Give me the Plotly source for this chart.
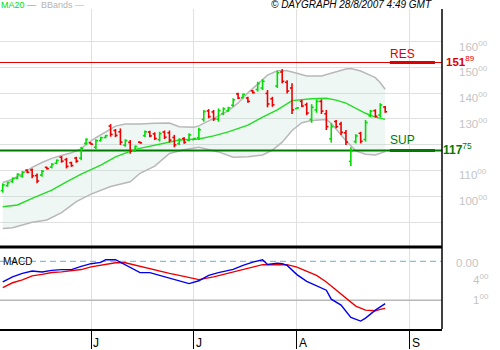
import plotly.graph_objects as go

# ---------------- data ----------------
bar_idx = list(range(79))  # trading-day index, 0 = 7 May 2007
bar_open = [102.2, 104.1, 105.7, 107.0, 107.8, 110.1, 110.2, 108.0, 108.2, 111.2,
            111.3, 112.8, 115.1, 114.2, 113.0, 114.8, 114.8, 120.5, 120.7, 119.0,
            121.6, 122.8, 127.2, 125.5, 125.0, 119.8, 120.9, 117.7, 121.0, 123.5,
            124.9, 124.2, 122.0, 124.9, 124.6, 122.8, 120.4, 122.4, 121.8, 122.0,
            122.7, 129.8, 133.1, 132.7, 129.9, 132.1, 133.2, 135.3, 139.7, 138.3,
            138.1, 140.9, 141.4, 142.0, 139.9, 137.8, 142.8, 148.2, 144.2, 142.0,
            134.0, 136.8, 135.5, 129.8, 133.5, 136.8, 132.0, 122.3, 129.0, 128.0,
            124.6, 113.5, 121.2, 124.4, 122.0, 131.2, 133.2, 131.5, 134.6]
bar_high = [105.0, 105.6, 107.3, 108.9, 109.8, 110.4, 110.8, 108.8, 110.2, 111.4,
            112.8, 114.3, 115.6, 114.9, 113.4, 115.3, 119.2, 122.5, 120.8, 122.1,
            123.1, 123.8, 128.0, 126.1, 126.3, 122.1, 121.8, 119.7, 121.2, 125.5,
            125.4, 124.8, 125.0, 125.5, 125.5, 123.8, 122.5, 122.9, 124.4, 122.6,
            126.6, 133.5, 133.8, 133.5, 134.1, 134.5, 134.7, 138.0, 140.2, 139.9,
            138.6, 141.2, 144.4, 145.4, 141.2, 138.6, 148.7, 149.3, 145.0, 143.8,
            134.4, 137.3, 136.3, 135.7, 137.6, 137.6, 133.5, 128.3, 129.6, 128.9,
            125.7, 119.0, 124.1, 125.0, 129.6, 133.5, 133.7, 136.1, 135.0]
bar_low = [101.4, 103.7, 105.2, 106.6, 107.2, 108.9, 107.0, 105.0, 107.6, 110.4,
           110.8, 112.4, 113.0, 110.8, 111.4, 113.0, 114.0, 119.9, 120.0, 118.2,
           121.2, 122.5, 123.1, 122.9, 119.9, 119.2, 116.5, 117.2, 120.5, 123.0,
           122.9, 121.8, 121.2, 122.2, 120.9, 119.0, 119.9, 120.4, 121.2, 121.8,
           121.8, 128.9, 130.2, 129.2, 128.9, 131.5, 132.8, 134.7, 137.6, 137.9,
           136.3, 139.9, 140.6, 141.2, 134.5, 134.7, 142.0, 143.8, 139.9, 131.9,
           133.8, 134.5, 131.5, 128.5, 132.4, 131.9, 125.7, 120.8, 126.4, 123.8,
           119.9, 111.7, 120.5, 120.5, 121.2, 130.6, 130.6, 130.6, 132.4]
bar_close = [104.4, 105.3, 106.9, 108.5, 109.3, 109.3, 107.9, 105.9, 109.7, 110.7,
             112.4, 113.9, 113.6, 111.6, 111.9, 113.6, 118.6, 122.0, 120.2, 121.5,
             122.7, 123.5, 124.0, 123.6, 121.0, 121.6, 117.5, 119.3, 120.7, 125.0,
             123.4, 122.4, 124.3, 122.9, 121.8, 119.9, 122.0, 120.9, 123.8, 122.4,
             125.8, 132.8, 130.9, 130.0, 133.2, 133.9, 134.3, 137.4, 138.1, 139.5,
             136.8, 140.2, 143.7, 144.6, 135.8, 135.5, 147.9, 144.6, 140.8, 133.5,
             134.3, 135.0, 132.3, 134.5, 136.8, 133.0, 127.0, 127.0, 127.0, 124.8,
             121.0, 117.5, 123.4, 121.3, 128.6, 133.0, 131.0, 135.4, 132.8]

ma_idx = [0, 3, 6, 10, 13, 16, 20, 23, 27, 29, 33, 36, 40, 43, 46, 50, 53, 56,
          59, 63, 66, 68, 70, 72, 74, 76, 78]
ma_val = [95.9, 96.6, 99.2, 102.4, 105.6, 108.6, 112.1, 115.3, 118.2, 119.0,
          120.5, 121.8, 122.2, 123.4, 125.0, 127.6, 130.7, 133.5, 137.1, 137.8,
          138.0, 137.3, 136.1, 134.1, 132.2, 130.7, 129.8]

ub_idx = [0, 2, 4, 6, 8, 10, 12, 14, 16, 17, 19, 21, 23, 25, 28, 31, 34, 36, 39,
          40, 42, 44, 46, 48, 50, 52, 54, 56, 58, 60, 62, 65, 68, 70, 71, 73, 75,
          76, 77, 78]
ub_val = [105.3, 106.6, 108.8, 111.2, 113.1, 114.7, 115.8, 116.9, 118.3, 120.2,
          122.7, 124.8, 127.2, 128.0, 128.0, 128.3, 128.4, 127.0, 126.8, 127.3,
          129.2, 131.1, 133.1, 136.2, 140.1, 143.5, 147.0, 148.7, 148.7, 147.7,
          146.7, 146.7, 148.3, 149.4, 149.6, 148.6, 146.9, 146.0, 144.0, 141.5]

lb_idx = [0, 2, 6, 9, 12, 15, 18, 22, 26, 28, 31, 34, 37, 40, 44, 47, 50, 53, 55,
          57, 59, 61, 63, 66, 67, 68, 70, 72, 74, 76, 78]
lb_val = [87.5, 87.8, 89.9, 90.8, 93.6, 97.9, 100.8, 103.8, 105.6, 108.9, 111.7,
          116.6, 118.0, 119.0, 117.2, 115.1, 115.3, 116.0, 117.9, 121.0, 125.5,
          128.5, 129.4, 129.8, 128.3, 126.0, 121.5, 117.6, 116.3, 116.0, 117.3]

macd_idx = [0, 2, 4, 6, 8, 10, 12, 14, 16, 18, 20, 21, 23, 25, 27, 28, 30, 32, 34,
            36, 38, 40, 42, 44, 47, 49, 51, 53, 54, 56, 57, 58, 59, 60, 62, 64, 66,
            67, 69, 71, 73, 74, 76, 78]
macd_val = [-2.07, -1.55, -1.2, -0.97, -1.07, -0.9, -0.83, -0.83, -0.5, -0.23, -0.1,
            0.17, 0.17, -0.35, -0.9, -1.13, -1.13, -1.4, -1.67, -2.0, -2.23, -1.95,
            -1.4, -1.13, -0.8, -0.4, -0.07, 0.17, -0.3, -0.17, -0.23, -0.4, -0.9,
            -1.33, -2.0, -2.47, -2.9, -3.8, -4.4, -5.63, -6.0, -5.7, -4.9, -4.25]

sig_idx = [0, 2, 4, 6, 8, 10, 12, 14, 16, 18, 20, 22, 23, 25, 28, 31, 34, 36, 38,
           40, 43, 46, 48, 51, 53, 55, 58, 60, 62, 64, 66, 68, 70, 72, 74, 76, 77, 78]
sig_val = [-2.63, -2.15, -1.85, -1.45, -1.3, -1.12, -1.05, -0.9, -0.82, -0.55, -0.4,
           -0.22, -0.13, -0.13, -0.5, -0.85, -1.2, -1.4, -1.63, -1.83, -1.55, -1.2,
           -0.95, -0.63, -0.33, -0.33, -0.33, -0.57, -0.97, -1.4, -2.07, -2.9, -3.73,
           -4.5, -4.9, -4.97, -4.83, -4.73]

res_level = 151.89
sup_level = 117.75
macd_ref_level = -3.9

month_idx = [18, 39, 60, 83]
month_lbl = ["J", "J", "A", "S"]

price_grid = [90, 100, 110, 120, 130, 140, 150, 160]
price_lbl_vals = [100, 110, 130, 140, 150, 160]   # 120 is covered by the SUP label
macd_lbl_vals = [0.0, -1.6, -3.6]
macd_lbl_text = ["0.00", "4<sup>00</sup>", "1<sup>00</sup>"]

# ---------------- styling ----------------
FONT = "Liberation Sans"
GRID = "#e0e0e0"
UPC = "#00dd00"
DNC = "#ee0000"
SUPC = "#007a00"
TICK = 0.42          # half-width of open/close ticks, in bar units
x_range = [-0.56, 89.59]
y_range = [80.3, 172.65]
m_range = [-6.8, 1.3]


def bar_path(up):
    xs, ys = [], []
    for i, o, h, l, c in zip(bar_idx, bar_open, bar_high, bar_low, bar_close):
        if (c >= o) != up:
            continue
        xs += [i, i, None, i - TICK, i, None, i, i + TICK, None]
        ys += [l, h, None, o, o, None, c, c, None]
    return xs, ys


fig = go.Figure()

# Bollinger band fill (translucent so the grid shows through)
fig.add_trace(go.Scatter(
    x=ub_idx + lb_idx[::-1], y=ub_val + lb_val[::-1],
    fill="toself", fillcolor="rgba(175,215,205,0.2)", line=dict(width=0),
    mode="lines", hoverinfo="skip", xaxis="x", yaxis="y"))
fig.add_trace(go.Scatter(x=ub_idx, y=ub_val, mode="lines",
                         line=dict(color="#b8b8b8", width=1.5), xaxis="x", yaxis="y"))
fig.add_trace(go.Scatter(x=lb_idx, y=lb_val, mode="lines",
                         line=dict(color="#b8b8b8", width=1.5), xaxis="x", yaxis="y"))

# resistance / support lines
fig.add_trace(go.Scatter(x=x_range, y=[res_level, res_level], mode="lines",
                         line=dict(color="#e00000", width=1.2), xaxis="x", yaxis="y"))
fig.add_trace(go.Scatter(x=x_range, y=[sup_level, sup_level], mode="lines",
                         line=dict(color=SUPC, width=2), xaxis="x", yaxis="y"))

# MA20
fig.add_trace(go.Scatter(x=ma_idx, y=ma_val, mode="lines",
                         line=dict(color="#22dd22", width=1.4), xaxis="x", yaxis="y"))

# price bars (OHLC)
for up, col in ((True, UPC), (False, DNC)):
    bx, by = bar_path(up)
    fig.add_trace(go.Scatter(x=bx, y=by, mode="lines", connectgaps=False,
                             line=dict(color=col, width=1.6),
                             hoverinfo="skip", xaxis="x", yaxis="y"))

# MACD panel
fig.add_trace(go.Scatter(x=x_range, y=[0, 0], mode="lines",
                         line=dict(color="#80c0dc", width=1.2, dash="6px,4px"),
                         xaxis="x2", yaxis="y2"))
fig.add_trace(go.Scatter(x=x_range, y=[macd_ref_level, macd_ref_level], mode="lines",
                         line=dict(color="#b8b8b8", width=1.5), xaxis="x2", yaxis="y2"))
fig.add_trace(go.Scatter(x=sig_idx, y=sig_val, mode="lines",
                         line=dict(color="#ee0000", width=1.4), xaxis="x2", yaxis="y2"))
fig.add_trace(go.Scatter(x=macd_idx, y=macd_val, mode="lines",
                         line=dict(color="#0000ee", width=1.4), xaxis="x2", yaxis="y2"))

MAIN_BOTTOM = 0.25625
fig.update_layout(
    width=500, height=350,
    margin=dict(l=0, r=58, t=9, b=21),
    paper_bgcolor="white", plot_bgcolor="white",
    showlegend=False,
    font=dict(family=FONT, size=11, color="black"),
    xaxis=dict(domain=[0, 1], anchor="y", range=x_range, tickvals=month_idx,
               showticklabels=False, ticks="", showgrid=True, gridcolor=GRID,
               gridwidth=1, zeroline=False, showline=False),
    yaxis=dict(domain=[MAIN_BOTTOM, 1], anchor="x", range=y_range,
               tickvals=price_grid, showticklabels=False, ticks="",
               showgrid=True, gridcolor=GRID, gridwidth=1, zeroline=False),
    xaxis2=dict(domain=[0, 1], anchor="y2", range=x_range, tickvals=month_idx,
                showticklabels=False, ticks="outside", ticklen=18, tickwidth=1,
                tickcolor="black", showgrid=True, gridcolor=GRID, gridwidth=1,
                zeroline=False, showline=True, linecolor="black", linewidth=1.5),
    yaxis2=dict(domain=[0, 0.2516], anchor="x2", range=m_range,
                showticklabels=False, ticks="", showgrid=False, zeroline=False),
)

shapes = [
    # right border
    dict(type="line", xref="paper", yref="paper", x0=1, x1=1, y0=0, y1=1,
         line=dict(color="black", width=1.5)),
    # panel divider
    dict(type="line", xref="paper", yref="paper", x0=0, x1=1,
         y0=MAIN_BOTTOM, y1=MAIN_BOTTOM, line=dict(color="black", width=3)),
    # thick RES / SUP markers on the right
    dict(type="line", xref="paper", yref="y", x0=0.882, x1=0.984,
         y0=res_level, y1=res_level, line=dict(color="#e00000", width=3)),
    dict(type="line", xref="paper", yref="y", x0=0.882, x1=0.984,
         y0=sup_level, y1=sup_level, line=dict(color=SUPC, width=3)),
]

ann = []
# price labels
for v in price_lbl_vals:
    ann.append(dict(x=1, xref="paper", y=v, yref="y", xanchor="left",
                    xshift=16, yshift=-4, showarrow=False, borderpad=0,
                    text=f"{v}<sup>00</sup>",
                    font=dict(family=FONT, size=11.5, color="#c4c4c4")))
# RES / SUP value labels
res_i, res_d = f"{res_level:.2f}".split(".")
sup_i, sup_d = f"{sup_level:.2f}".split(".")
ann.append(dict(x=1, xref="paper", y=res_level, yref="y", xanchor="left",
                xshift=3, yshift=1.5, showarrow=False, borderpad=0,
                text=f"<b>{res_i}</b><sup>{res_d}</sup>",
                font=dict(family=FONT, size=11.5, color="#e00000")))
ann.append(dict(x=1, xref="paper", y=sup_level, yref="y", xanchor="left",
                xshift=0, yshift=1, showarrow=False, borderpad=0,
                text=f"<b>{sup_i}</b><sup>{sup_d}</sup>",
                font=dict(family=FONT, size=12, color=SUPC)))
ann.append(dict(x=0.882, xref="paper", y=res_level, yref="y", xanchor="left",
                yanchor="bottom", yshift=0, xshift=-2, showarrow=False, text="RES",
                font=dict(family=FONT, size=12, color="#e00000")))
ann.append(dict(x=0.882, xref="paper", y=sup_level, yref="y", xanchor="left",
                yanchor="bottom", yshift=1, xshift=-2, showarrow=False, text="SUP",
                font=dict(family=FONT, size=12, color=SUPC)))
# MACD labels
for v, t in zip(macd_lbl_vals, macd_lbl_text):
    xs = 13 if t.startswith("0") else 30
    ann.append(dict(x=1, xref="paper", y=v, yref="y2", xanchor="left",
                    xshift=xs, yshift=-2, showarrow=False, text=t, borderpad=0,
                    font=dict(family=FONT, size=11.5, color="#c4c4c4")))
ann.append(dict(x=0, xref="paper", y=0, yref="y2", xanchor="left", xshift=1,
                showarrow=False, text="MACD",
                font=dict(family=FONT, size=10, color="black")))
# month labels
for m, t in zip(month_idx, month_lbl):
    ann.append(dict(x=m, xref="x2", y=0, yref="paper", xanchor="left",
                    yanchor="top", xshift=0, yshift=-5, showarrow=False, text=t,
                    font=dict(family=FONT, size=12, color="black")))
# header texts
ann.append(dict(x=0, xref="paper", y=1, yref="paper", xanchor="left",
                yanchor="bottom", xshift=-1, yshift=-3, showarrow=False,
                text="<span style='color:#00e000'>MA20 —</span>  "
                     "<span style='color:#b4b4b4'>BBands —</span>",
                font=dict(family=FONT, size=9)))
ann.append(dict(x=1, xref="paper", y=1, yref="paper", xanchor="right",
                yanchor="bottom", xshift=-8, yshift=-3, showarrow=False,
                text="<i>© DAYGRAPH 28/8/2007 4:49 GMT</i>",
                font=dict(family=FONT, size=10, color="black")))

fig.update_layout(shapes=shapes, annotations=ann)
fig.write_html("out.html")
